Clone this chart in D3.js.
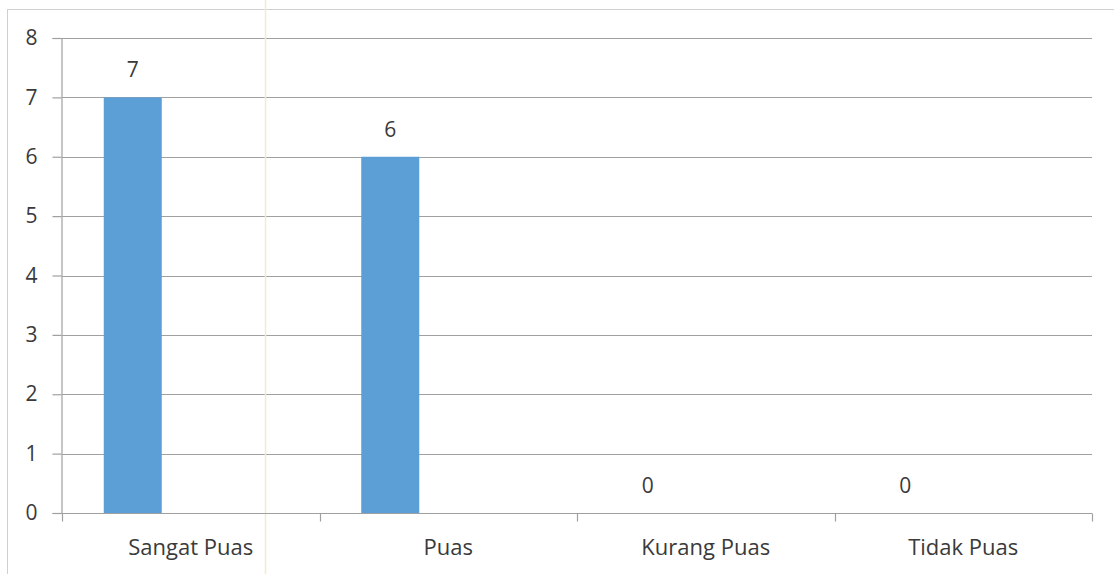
<!DOCTYPE html>
<html>
<head>
<meta charset="utf-8">
<script src="https://cdn.jsdelivr.net/npm/d3@7"></script>
<style>
  body { margin: 0; background: #fff; }
  svg text { font-family: "Open Sans", Lato, sans-serif; fill: #3a3a3a; }
</style>
</head>
<body>
<svg id="chart"></svg>
<script>
// data
const categories = ["Sangat Puas", "Puas", "Kurang Puas", "Tidak Puas"];
const values = [7, 6, 0, 0];
const yTicks = [0, 1, 2, 3, 4, 5, 6, 7, 8];
// excel-style clustered slots: only the first series holds data
const slots = ["s1", "s2", "s3"];

const width = 1114, height = 574;
const margin = {top: 38, right: 22, bottom: 61, left: 62};

const svg = d3.select('#chart')
    .attr('width', width)
    .attr('height', height);

// chart border (partly cropped in the scan)
svg.append('rect')
    .attr('x', 7.5).attr('y', 9.5)
    .attr('width', width + 20).attr('height', height + 20)
    .attr('fill', 'none')
    .attr('stroke', '#d0d0d0');

const x = d3.scaleBand()
    .domain(categories)
    .range([margin.left, width - margin.right]);

const xSlot = d3.scaleBand()
    .domain(slots)
    .range([0, x.bandwidth()])
    .paddingOuter(0.72);

const y = d3.scaleLinear()
    .domain([0, 8])
    .range([height - margin.bottom, margin.top]);

// gridlines
svg.append('g')
    .selectAll('line')
    .data(yTicks.filter(d => d > 0))
    .enter().append('line')
    .attr('x1', margin.left).attr('x2', width - margin.right)
    .attr('y1', d => Math.round(y(d)) + 0.5)
    .attr('y2', d => Math.round(y(d)) + 0.5)
    .attr('stroke', '#a0a0a0')
    .attr('stroke-width', 1.2);

// faint fold line from the scan
svg.append('line')
    .attr('x1', 265.5).attr('x2', 265.5)
    .attr('y1', 0).attr('y2', height)
    .attr('stroke', '#f3ead0')
    .attr('stroke-width', 1.5);

const rows = categories.map((c, i) => ({cat: c, val: values[i]}));

// bars
svg.append('g')
    .selectAll('rect')
    .data(rows)
    .enter().append('rect')
    .attr('x', d => x(d.cat) + xSlot('s1'))
    .attr('width', xSlot.bandwidth())
    .attr('y', d => y(d.val))
    .attr('height', d => y(0) - y(d.val))
    .attr('fill', '#5b9fd6');

// value labels
svg.append('g')
    .selectAll('text')
    .data(rows)
    .enter().append('text')
    .attr('x', d => x(d.cat) + xSlot('s1') + xSlot.bandwidth() / 2)
    .attr('y', d => y(d.val) - 20)
    .attr('text-anchor', 'middle')
    .style('font-size', '21px')
    .text(d => d.val);

// y axis
const yAxis = svg.append('g')
    .attr('transform', 'translate(' + (margin.left - 0.5) + ',0)')
    .call(d3.axisLeft(y).tickValues(yTicks).tickSize(9).tickPadding(15).tickFormat(d3.format('d')));
yAxis.select('.domain').attr('stroke', '#a0a0a0').attr('stroke-width', 1.2);
yAxis.selectAll('.tick line').attr('stroke', '#a0a0a0').attr('stroke-width', 1.2);
yAxis.selectAll('.tick text').style('font-size', '21px').style('fill', '#3a3a3a')
    .style('font-family', '"Open Sans", Lato, sans-serif');

// x axis with ticks at category boundaries
const xAxisG = svg.append('g')
    .attr('transform', 'translate(0,' + (Math.round(y(0)) + 0.5) + ')');
xAxisG.append('line')
    .attr('x1', margin.left).attr('x2', width - margin.right)
    .attr('stroke', '#a0a0a0').attr('stroke-width', 1.2);
const bounds = categories.map(c => x(c)).concat([x.range()[1]]);
xAxisG.selectAll('.bt')
    .data(bounds)
    .enter().append('line')
    .attr('x1', d => Math.round(d) + 0.5).attr('x2', d => Math.round(d) + 0.5)
    .attr('y1', 0).attr('y2', 8)
    .attr('stroke', '#a0a0a0').attr('stroke-width', 1.2);
xAxisG.selectAll('text')
    .data(categories)
    .enter().append('text')
    .attr('x', d => x(d) + x.bandwidth() / 2)
    .attr('y', 41)
    .attr('text-anchor', 'middle')
    .style('font-size', '22px')
    .text(d => d);
</script>
</body>
</html>
